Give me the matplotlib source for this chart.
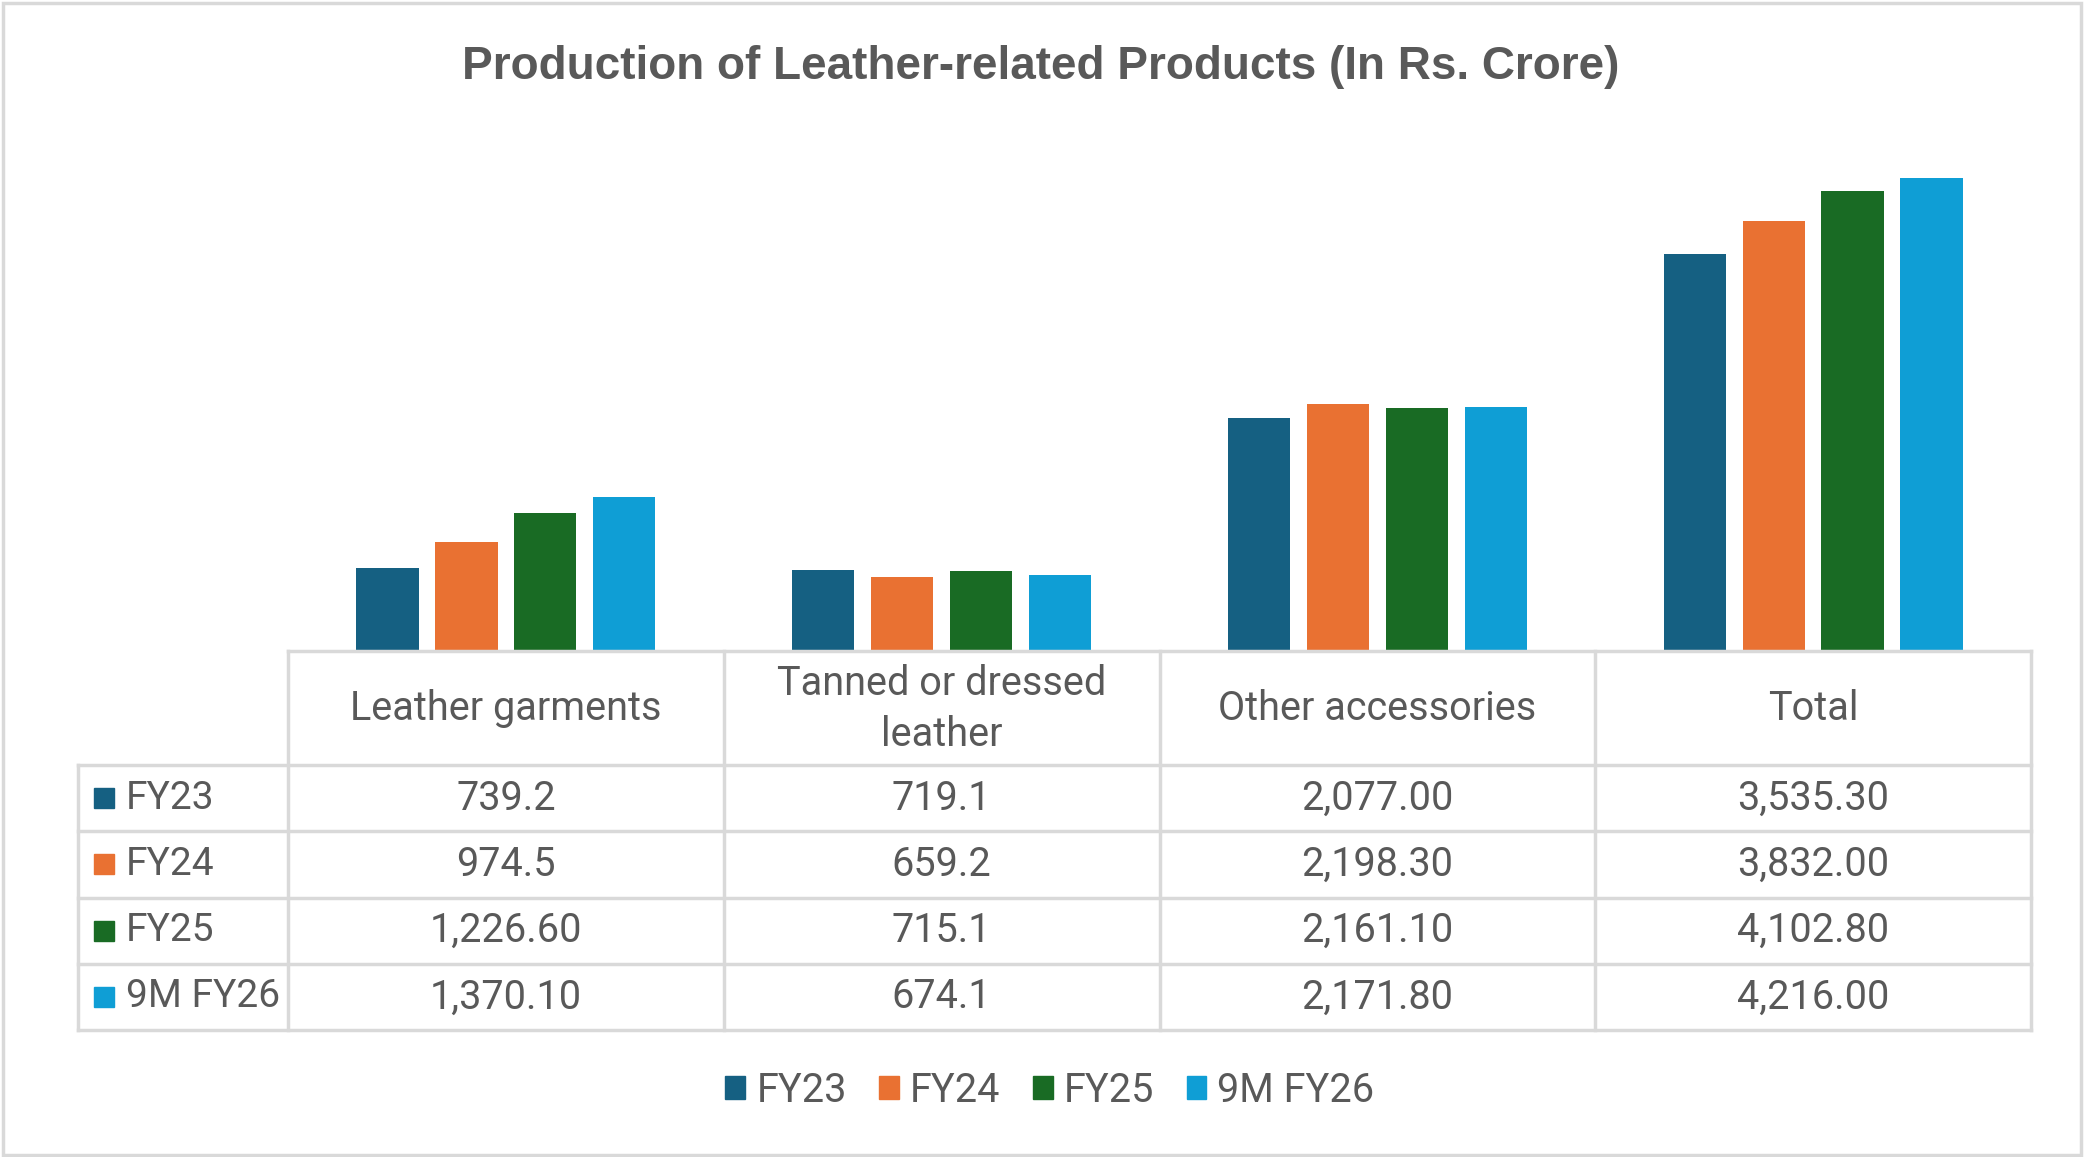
import matplotlib
matplotlib.use("Agg")
import matplotlib.pyplot as plt
from matplotlib.patches import Patch, Rectangle
from matplotlib.lines import Line2D

categories = ["Leather garments", "Tanned or dressed\nleather", "Other accessories", "Total"]
series_names = ["FY23", "FY24", "FY25", "9M FY26"]
fy23 = [739.2, 719.1, 2077.00, 3535.30]
fy24 = [974.5, 659.2, 2198.30, 3832.00]
fy25 = [1226.60, 715.1, 2161.10, 4102.80]
fy26_9m = [1370.10, 674.1, 2171.80, 4216.00]
series_values = [fy23, fy24, fy25, fy26_9m]
colors = ["#156082", "#E97132", "#196B24", "#0F9ED5"]
title = "Production of Leather-related Products (In Rs. Crore)"

TEXT = "#595959"
GRID = "#D9D9D9"
W, H = 2084, 1157
FONT = "Roboto"
FS = 28.5


def fmt(v):
    return "{:,.2f}".format(v) if v >= 1000 else "{:.1f}".format(v)


fig = plt.figure(figsize=(W / 100, H / 100), dpi=100)
fig.patch.set_facecolor("white")
fig.patches.append(Rectangle((0.0015, 0.002), 0.997, 0.995, transform=fig.transFigure,
                             fill=False, edgecolor=GRID, linewidth=2.5))

# bar axes
x_left, x_right = 288, 2031
base_y, top_y = 651, 146
ax = fig.add_axes([x_left / W, 1 - base_y / H, (x_right - x_left) / W, (base_y - top_y) / H])
ax.set_xlim(-0.5, len(categories) - 0.5)
ax.set_ylim(0, 4500)
ax.axis("off")

step = 0.181
width = 0.143
n = len(series_names)
for i, (vals, c) in enumerate(zip(series_values, colors)):
    off = (i - (n - 1) / 2) * step
    ax.bar([k + off for k in range(len(categories))], vals, width=width, color=c, zorder=2)

fig.text(1041 / W, 1 - 67 / H, title, ha="center", va="center", fontsize=33,
         fontweight="bold", color=TEXT, family="Liberation Sans")

# data table axes
t_left, t_top, t_bottom = 78, 651, 1030
unit = (x_right - x_left) / len(categories)
tab = fig.add_axes([t_left / W, 1 - t_bottom / H, (x_right - t_left) / W, (t_bottom - t_top) / H])
x0 = -0.5 - (x_left - t_left) / unit
tab.set_xlim(x0, len(categories) - 0.5)
header_h = 114
row_h = (t_bottom - t_top - header_h) / n
tab.set_ylim(t_bottom - t_top, 0)
tab.axis("off")

lw = 2.5
tab.add_line(Line2D([-0.5, len(categories) - 0.5], [0, 0], color=GRID, lw=lw, clip_on=False))
for r in range(n + 1):
    yy = header_h + r * row_h
    tab.add_line(Line2D([x0, len(categories) - 0.5], [yy, yy], color=GRID, lw=lw, clip_on=False))
tab.add_line(Line2D([x0, x0], [header_h, header_h + n * row_h], color=GRID, lw=lw, clip_on=False))
for k in range(len(categories) + 1):
    xx = -0.5 + k
    tab.add_line(Line2D([xx, xx], [0, header_h + n * row_h], color=GRID, lw=lw, clip_on=False))

for k, cat in enumerate(categories):
    tab.text(k, header_h / 2 + 1, cat, ha="center", va="center", fontsize=FS, color=TEXT,
             family=FONT, linespacing=1.37)

sq = 20 / unit
for r, (name, vals, c) in enumerate(zip(series_names, series_values, colors)):
    yc = header_h + (r + 0.5) * row_h
    sx = x0 + (94 - t_left) / unit
    tab.add_patch(Rectangle((sx, yc - 10), sq, 20, color=c, clip_on=False))
    tab.text(x0 + (126 - t_left) / unit, yc, name, ha="left", va="center", fontsize=FS - 0.5,
             color=TEXT, family=FONT)
    for k, v in enumerate(vals):
        tab.text(k, yc, fmt(v), ha="center", va="center", fontsize=FS, color=TEXT, family=FONT)

handles = [Patch(facecolor=c, edgecolor=c, label=s) for s, c in zip(series_names, colors)]
leg = fig.legend(handles=handles, loc="center", bbox_to_anchor=(1050 / W, 1 - 1090 / H), ncol=4,
                 frameon=False, handlelength=0.5, handleheight=0.5,
                 handletextpad=0.28, columnspacing=0.82, prop={"family": FONT, "size": FS})
for t in leg.get_texts():
    t.set_color(TEXT)

fig.savefig("out.png", dpi=100, facecolor="white")
